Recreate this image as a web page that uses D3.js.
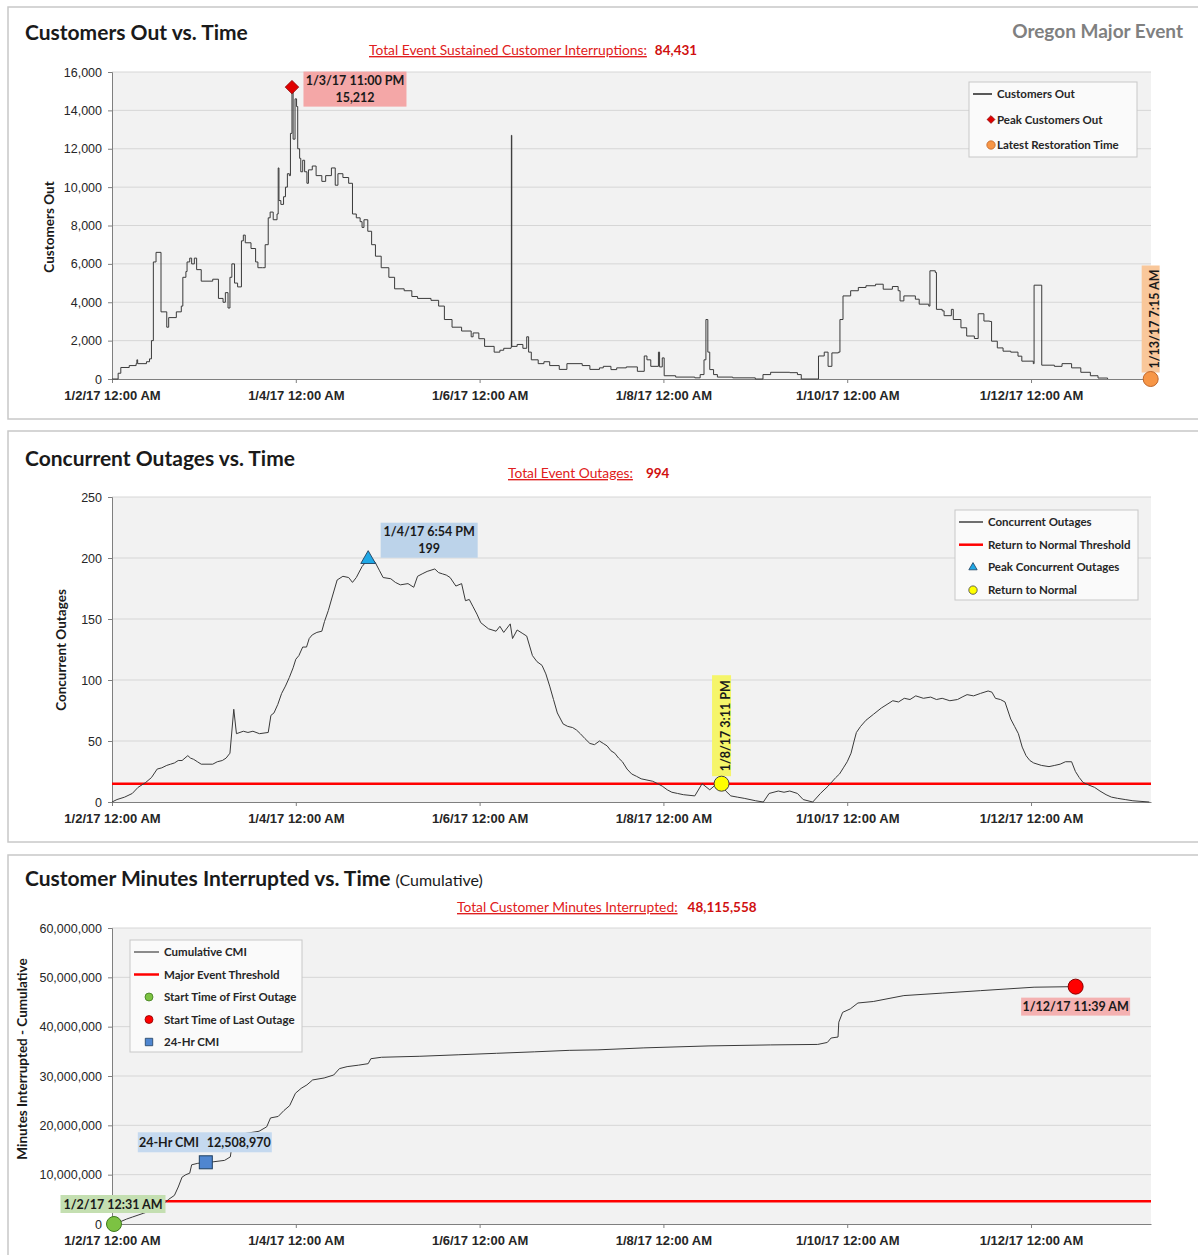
<!DOCTYPE html>
<html lang="en">
<head>
<meta charset="UTF-8">
<title>Oregon Major Event</title>
<script src="https://d3js.org/d3.v7.min.js"></script>
<style>
    body { margin: 0; background: #fff; }
    svg { font-family: Lato, "Open Sans", sans-serif; }
    svg text { fill: #1a1a1a; }
    .panel { fill: #fff; stroke: #c8c8c8; stroke-width: 1.5px; }
    .plot-bg { fill: #f2f2f2; }
    .grid line { stroke: #d6d6d6; stroke-width: 1px; }
    .axis path, .axis line { stroke: #7f7f7f; }
    .axis text { font-size: 12.5px; fill: #262626; }
    .x-axis text { font-size: 13px; font-weight: 700; }
    .series { fill: none; stroke: #3a3a3a; stroke-width: 1px; }
    .threshold { stroke: #ff0000; stroke-width: 2.5px; }
    .legend-box { fill: #fafafa; stroke: #c8c8c8; }
    .legend text { font-size: 11.5px; font-weight: 700; fill: #262626; }
    .note text { font-size: 12.5px; font-weight: 700; }
</style>
</head>
<body>
<svg id="chart" width="1198" height="1255"></svg>
<script>
// hours after 1/2/17 12:00 AM
const customersOut = [
    [0, 0], [1.3, 0], [1.6, 300], [2.3, 600], [4.5, 700], [6.3, 800], [6.5, 1000], [6.7, 800],
    [9, 900], [9.8, 1050], [10.3, 2000], [10.8, 6100], [11.5, 6600], [12.8, 3500], [14.3, 2700],
    [14.8, 3200], [16.8, 3500], [18.1, 3800], [18.5, 5300], [19.3, 5600], [19.6, 6100], [20.3, 6300],
    [20.8, 6000], [21.5, 6300], [22.1, 5700], [23.3, 5100], [26.3, 5200], [27.8, 4200], [29.0, 4000],
    [29.6, 4500], [30.3, 3700], [30.8, 5300], [31.3, 6000], [32.0, 5000], [32.8, 4800], [33.8, 7200],
    [34.3, 7500], [34.8, 7100], [36.3, 6800], [37.5, 6100], [38.1, 5800], [39.3, 5800], [40.0, 7000],
    [40.8, 8400], [41.3, 8700], [42.1, 8300], [43.1, 8600], [43.4, 11000], [43.6, 9300], [44.1, 9100],
    [44.8, 9500], [45.3, 10000], [45.8, 10700], [46.3, 10600], [46.6, 12800], [47.0, 15212],
    [47.3, 12500], [47.8, 14600], [48.2, 14200], [48.5, 12000], [49.0, 11500], [49.3, 10800],
    [49.8, 11400], [50.3, 10800], [50.9, 10200], [51.3, 10900], [52.3, 11100], [53.3, 10600],
    [54.8, 10300], [55.8, 10600], [57.3, 11000], [58.3, 10100], [59.0, 10700], [60.3, 10500],
    [61.8, 10200], [62.8, 8600], [63.8, 8400], [64.8, 8200], [65.3, 7900], [65.8, 8300], [66.8, 7700],
    [67.8, 7000], [68.8, 6400], [70.3, 5800], [72.3, 5300], [73.8, 4700], [76.3, 4600], [78.3, 4300],
    [79.8, 4200], [83.3, 4100], [85.3, 3800], [86.8, 3100], [88.8, 2700], [91.3, 2500], [93.8, 2200],
    [94.3, 2400], [95.8, 2100], [97.3, 1700], [99.8, 1400], [101.3, 1500], [102.3, 1600], [104.2, 1650],
    [104.3, 12700], [104.4, 1700], [105.8, 1800], [107.3, 1600], [108.3, 2200], [108.8, 1400],
    [109.5, 1000], [111.3, 800], [112.8, 900], [114.3, 700], [116.8, 500], [118.8, 800], [122.8, 700],
    [124.8, 500], [127.3, 580], [128.3, 660], [130.3, 490], [131.8, 580], [134.3, 630], [137.2, 400],
    [139.0, 1200], [139.7, 1000], [140.7, 660], [142.7, 1400], [143.0, 630], [143.7, 1100],
    [144.2, 170], [147.2, 100], [152.2, 60], [153.6, 230], [154.6, 1000], [155.1, 3100], [155.6, 1400],
    [156.1, 490], [157.1, 230], [158.1, 100], [162.1, 60], [168.0, 0], [170.0, 230], [172.0, 350],
    [177.0, 330], [179.0, 230], [180.0, 0], [184.5, 1200], [186.0, 1400], [187.0, 660], [188.0, 1360],
    [189.7, 1400], [190.1, 3100], [190.9, 4330], [192.9, 4600], [194.9, 4770], [196.9, 4860],
    [199.4, 4940], [201.4, 4680], [203.8, 4820], [205.3, 4600], [205.8, 4070], [206.8, 4330],
    [209.8, 4160], [210.8, 3900], [213.3, 3800], [213.6, 5640], [215.0, 5550], [215.3, 3630],
    [216.8, 3550], [217.3, 3300], [219.2, 3630], [219.7, 3100], [221.7, 2670], [223.2, 2240],
    [225.2, 2110], [226.2, 3400], [227.7, 3020], [229.2, 3000], [229.7, 1970], [231.2, 1620],
    [232.7, 1450], [234.7, 1400], [236.6, 1190], [237.6, 930], [240.6, 800], [240.8, 4890],
    [242.6, 4890], [242.8, 720], [246.1, 660], [248.1, 800], [250.6, 580], [253.0, 350],
    [255.5, 170], [257.5, 50], [260.0, 0]
];

const concurrentOutages = [
    [0, 0], [1.3, 2], [3.3, 4], [5.3, 7], [6.8, 12], [8.8, 16], [10.3, 20], [11.8, 27], [13.0, 28],
    [14.3, 30], [15.3, 31], [16.3, 32], [17.3, 34], [18.3, 34], [19.8, 38], [20.5, 36], [21.3, 35],
    [22.3, 33], [23.3, 31], [26.3, 31], [27.5, 33], [28.8, 34], [29.8, 36], [30.8, 40],
    [31.8, 76], [32.5, 56], [34.3, 58], [35.5, 57], [36.8, 58], [38.5, 56], [40.8, 57], [41.5, 71],
    [42.3, 73], [43.3, 80], [44.3, 89], [45.3, 95], [46.3, 102], [47.3, 110], [48.0, 117], [48.8, 120],
    [49.8, 127], [50.8, 127], [51.5, 134], [52.3, 137], [53.5, 139], [54.8, 140], [55.5, 148],
    [56.5, 157], [57.5, 168], [58.8, 182], [60.3, 185], [61.8, 184], [62.8, 180], [63.8, 184],
    [65.3, 193], [66.9, 199], [68.0, 199], [68.8, 196], [69.8, 190], [70.8, 184], [72.8, 183],
    [74.0, 180], [75.3, 178], [77.3, 179], [78.8, 176], [79.8, 185], [81.0, 187], [82.3, 189],
    [84.3, 191], [85.3, 188], [86.3, 187], [87.3, 186], [88.3, 184], [89.8, 177], [91.3, 179],
    [92.3, 165], [93.3, 166], [94.3, 160], [95.3, 154], [96.3, 147], [98.3, 142], [100.3, 140],
    [101.3, 144], [102.3, 139], [104.0, 146], [104.6, 134], [105.8, 141], [107.3, 138], [108.3, 136],
    [109.8, 120], [111.0, 115], [112.3, 112], [113.3, 105], [114.3, 95], [115.3, 84], [116.3, 73],
    [117.8, 64], [119.0, 62], [120.3, 61], [121.3, 59], [122.3, 56], [123.5, 52], [124.8, 48],
    [126.0, 47], [127.3, 50], [128.3, 48], [129.3, 46], [130.3, 42], [131.3, 40], [132.3, 36],
    [133.3, 33], [134.5, 27], [135.7, 23], [137.0, 21], [138.2, 19], [139.7, 18], [141.2, 17],
    [142.5, 15], [143.7, 13], [145.0, 10], [146.2, 8], [147.7, 7], [149.2, 6], [152.2, 5],
    [154.1, 15], [156.1, 10], [157.6, 14], [159.1, 15], [160.3, 9], [161.6, 5], [163.3, 4], [165.1, 3],
    [168.1, 1], [170.1, 0], [171.6, 7], [174.0, 9], [175.5, 8], [177.0, 9], [179.0, 7], [180.5, 2],
    [183.0, 0], [185.0, 7], [187.0, 13], [189.0, 20], [190.0, 23], [191.0, 28], [192.0, 33],
    [193.0, 40], [193.8, 50], [194.4, 57], [195.5, 62], [196.9, 67], [198.9, 72], [200.9, 77],
    [202.4, 80], [203.9, 83], [205.4, 82], [206.9, 85], [208.4, 84], [209.9, 87], [211.9, 85],
    [213.8, 86], [215.3, 84], [216.8, 85], [218.8, 83], [220.8, 84], [222.0, 86], [223.3, 88],
    [225.0, 87], [226.8, 89], [228.8, 91], [229.8, 90], [230.7, 85], [232.0, 84], [233.2, 82],
    [234.7, 68], [235.7, 62], [236.7, 56], [237.7, 45], [238.7, 38], [239.7, 34], [240.7, 32],
    [242.7, 30], [244.7, 29], [246.2, 30], [247.6, 31], [249.0, 33], [250.6, 33], [251.6, 25],
    [252.6, 20], [253.6, 16], [255.0, 14], [256.6, 12], [258.0, 9], [259.6, 6], [261.0, 4],
    [262.6, 3], [264.6, 2], [266.6, 1], [270.9, 0]
];

const cumulativeCMI = [
    [0.52, 0], [2.0, 0.4e6], [3.8, 1.0e6], [5.3, 1.4e6], [6.8, 1.8e6], [8.3, 2.2e6], [9.8, 2.6e6],
    [11.8, 3.2e6], [13.8, 4.3e6], [14.8, 5.0e6], [16.3, 5.8e6], [17.3, 7.5e6], [18.3, 9.5e6],
    [19.3, 10.0e6], [20.3, 10.3e6], [20.8, 12.0e6], [22.4, 12.3e6], [24.5, 12.509e6], [26.4, 12.6e6],
    [29.4, 12.9e6], [30.9, 13.6e6], [31.6, 17.4e6], [34.4, 18.3e6], [38.4, 18.8e6], [40.4, 19.7e6],
    [41.4, 21.5e6], [43.4, 21.8e6], [44.9, 23.0e6], [46.4, 24.0e6], [47.9, 26.5e6], [49.4, 27.5e6],
    [50.9, 28.2e6], [52.4, 29.2e6], [55.4, 29.6e6], [57.9, 30.2e6], [59.4, 31.5e6], [61.4, 31.9e6],
    [64.4, 32.2e6], [66.9, 32.5e6], [67.6, 33.5e6], [70.4, 33.8e6], [80.4, 34.0e6], [90.4, 34.3e6],
    [100.4, 34.6e6], [110.4, 34.9e6], [119.4, 35.2e6], [126.9, 35.3e6], [138.9, 35.7e6],
    [155.9, 36.1e6], [171.9, 36.3e6], [184.3, 36.4e6], [186.8, 36.8e6], [187.8, 37.7e6],
    [189.6, 37.9e6], [189.8, 40.9e6], [190.8, 42.9e6], [192.8, 43.6e6], [194.8, 44.8e6],
    [198.8, 45.1e6], [206.8, 46.3e6], [216.8, 46.8e6], [226.8, 47.3e6], [240.8, 48.0e6],
    [251.65, 48.115558e6]
];

const tickDays = [2, 4, 6, 8, 10, 12];
const returnToNormalThreshold = 15;
const majorEventThreshold = 4.6e6;

const start = new Date(2017, 0, 2);
const toDate = h => new Date(start.getTime() + h * 3600e3);
const fmtTick = d3.timeFormat('%-m/%-d/%y %-I:%M %p');

const svg = d3.select('#chart');

const x = d3.scaleTime()
    .domain([start, new Date(2017, 0, 13, 7, 20)])
    .range([112, 1151]);

function drawPanel(p) {
    svg.append('rect').attr('class', 'panel')
        .attr('x', 8).attr('y', p.boxTop).attr('width', 1200).attr('height', p.boxHeight);

    const y = d3.scaleLinear().domain([0, p.yMax]).range([p.bottom, p.top]);
    const g = svg.append('g');

    g.append('rect').attr('class', 'plot-bg')
        .attr('x', 112).attr('y', p.top).attr('width', 1151 - 112).attr('height', p.bottom - p.top);

    g.append('g').attr('class', 'grid')
        .selectAll('line').data(y.ticks(p.yTicks).slice(1))
        .enter().append('line')
        .attr('x1', 112).attr('x2', 1151)
        .attr('y1', d => y(d)).attr('y2', d => y(d));

    g.append('g').attr('class', 'axis')
        .attr('transform', 'translate(112,0)')
        .call(d3.axisLeft(y).ticks(p.yTicks).tickFormat(d3.format(',')).tickSize(4).tickPadding(6));

    g.append('g').attr('class', 'axis x-axis')
        .attr('transform', `translate(0,${p.bottom})`)
        .call(d3.axisBottom(x).tickValues(tickDays.map(d => new Date(2017, 0, d)))
            .tickFormat(fmtTick).tickSize(4).tickPadding(8).tickSizeOuter(0));

    // y axis title
    svg.append('text')
        .attr('transform', `translate(${p.yTitleX},${p.yTitleY}) rotate(-90)`)
        .attr('text-anchor', 'middle')
        .style('font-size', '13.5px').style('font-weight', 700)
        .text(p.yTitle);

    // chart title
    const t = svg.append('text').attr('x', 25).attr('y', p.titleY)
        .style('font-size', '21px').style('font-weight', 700);
    t.append('tspan').text(p.title);
    if (p.titleExtra) {
        t.append('tspan').attr('dx', 5).style('font-size', '16px').style('font-weight', 400).text(p.titleExtra);
    }

    // red total line
    const s = svg.append('text').attr('x', p.subX).attr('y', p.subY);
    s.append('tspan').style('font-size', '13.8px').style('fill', '#e02020')
        .style('text-decoration', 'underline').text(p.subLabel);
    s.append('tspan').attr('dx', p.subGap).style('font-size', '13.5px')
        .style('fill', '#d01010').style('font-weight', 700).text(p.subValue);

    return { g, y };
}

function labelBox(g, cx, cy, w, h, fill, lines, rotate) {
    const b = g.append('g').attr('class', 'note');
    b.append('rect').attr('x', cx - w / 2).attr('y', cy - h / 2)
        .attr('width', w).attr('height', h).attr('fill', fill);
    const tx = b.append('text').attr('text-anchor', 'middle')
        .attr('transform', rotate ? `translate(${cx + 4},${cy}) rotate(-90)` : `translate(${cx},${cy})`);
    lines.forEach((l, i) => {
        tx.append('tspan').attr('x', 0)
            .attr('y', (i - (lines.length - 1) / 2) * 17 + 4.5)
            .text(l);
    });
    return tx;
}

function legend(items, bx, by, bw, bh, rowH, symX, textX) {
    const lg = svg.append('g').attr('class', 'legend');
    lg.append('rect').attr('class', 'legend-box')
        .attr('x', bx).attr('y', by).attr('width', bw).attr('height', bh);
    items.forEach((it, i) => {
        const cy = by + 12 + i * rowH;
        if (it.type === 'line') {
            lg.append('line').attr('x1', bx + 4).attr('x2', textX - 5)
                .attr('y1', cy).attr('y2', cy)
                .attr('stroke', it.color).attr('stroke-width', it.width);
        } else {
            lg.append('path')
                .attr('transform', `translate(${symX},${cy}) rotate(${it.rot || 0})`)
                .attr('d', d3.symbol().type(it.type).size(it.size)())
                .attr('fill', it.color).attr('stroke', it.stroke).attr('stroke-width', 0.8);
        }
        lg.append('text').attr('x', textX).attr('y', cy + 4).text(it.label);
    });
}

// ---------- Panel 1: customers out ----------
const p1 = drawPanel({
    boxTop: 7, boxHeight: 412, top: 72, bottom: 379, yMax: 16000, yTicks: 8,
    title: 'Customers Out vs. Time', titleY: 40,
    yTitle: 'Customers Out', yTitleX: 54, yTitleY: 227,
    subX: 369, subY: 55, subGap: 8,
    subLabel: 'Total Event Sustained Customer Interruptions:', subValue: '84,431'
});

svg.append('text').attr('x', 1183).attr('y', 38).attr('text-anchor', 'end')
    .style('font-size', '19px').style('font-weight', 700).style('fill', '#808080')
    .text('Oregon Major Event');

p1.g.append('path').datum(customersOut).attr('class', 'series')
    .attr('d', d3.line().curve(d3.curveStepAfter)
        .x(d => x(toDate(d[0]))).y(d => p1.y(d[1])));

const peakCO = customersOut.reduce((a, b) => (b[1] > a[1] ? b : a));
const pkX = x(toDate(peakCO[0])), pkY = p1.y(peakCO[1]);
labelBox(p1.g, pkX + 63, pkY + 2, 103, 35, '#f4a7a7', ['1/3/17 11:00 PM', d3.format(',')(peakCO[1])]);
p1.g.append('path').attr('transform', `translate(${pkX},${pkY}) rotate(45)`)
    .attr('d', d3.symbol().type(d3.symbolSquare).size(90)())
    .attr('fill', '#e00000').attr('stroke', '#900000').attr('stroke-width', 0.8);

const restore = toDate(271.25);
labelBox(p1.g, x(restore), p1.y(0) - 60, 18, 107, '#f9c79a', ['1/13/17 7:15 AM'], true);
p1.g.append('circle').attr('cx', x(restore)).attr('cy', p1.y(0)).attr('r', 7.5)
    .attr('fill', '#f79646').attr('stroke', '#c0662a');

legend([
    { type: 'line', color: '#595959', width: 2, label: 'Customers Out' },
    { type: d3.symbolSquare, size: 30, rot: 45, color: '#e00000', stroke: '#900000', label: 'Peak Customers Out' },
    { type: d3.symbolCircle, size: 55, color: '#f79646', stroke: '#c0662a', label: 'Latest Restoration Time' }
], 969, 82, 168, 75, 25.5, 991, 997);

// ---------- Panel 2: concurrent outages ----------
const p2 = drawPanel({
    boxTop: 431, boxHeight: 411, top: 497, bottom: 802, yMax: 250, yTicks: 5,
    title: 'Concurrent Outages vs. Time', titleY: 466,
    yTitle: 'Concurrent Outages', yTitleX: 66, yTitleY: 650,
    subX: 508, subY: 478, subGap: 13,
    subLabel: 'Total Event Outages:', subValue: '994'
});

p2.g.append('line').attr('class', 'threshold')
    .attr('x1', 112).attr('x2', 1151)
    .attr('y1', p2.y(returnToNormalThreshold)).attr('y2', p2.y(returnToNormalThreshold));

p2.g.append('path').datum(concurrentOutages).attr('class', 'series')
    .attr('d', d3.line().x(d => x(toDate(d[0]))).y(d => p2.y(d[1])));

const peakOut = concurrentOutages.reduce((a, b) => (b[1] > a[1] ? b : a));
const poX = x(toDate(peakOut[0])), poY = p2.y(peakOut[1]);
labelBox(p2.g, poX + 61, poY - 19, 97, 35, '#bcd3ea', ['1/4/17 6:54 PM', String(peakOut[1])]);
p2.g.append('path').attr('transform', `translate(${poX},${poY})`)
    .attr('d', d3.symbol().type(d3.symbolTriangle).size(95)())
    .attr('fill', '#1fa8e6').attr('stroke', '#1f3f60').attr('stroke-width', 0.9);

const rtn = toDate(159.18);
labelBox(p2.g, x(rtn), p2.y(returnToNormalThreshold) - 58, 19, 101, '#f5f56a', ['1/8/17 3:11 PM'], true);
p2.g.append('circle').attr('cx', x(rtn)).attr('cy', p2.y(returnToNormalThreshold)).attr('r', 7.5)
    .attr('fill', '#ffff00').attr('stroke', '#404040');

legend([
    { type: 'line', color: '#404040', width: 1.5, label: 'Concurrent Outages' },
    { type: 'line', color: '#ff0000', width: 2.5, label: 'Return to Normal Threshold' },
    { type: d3.symbolTriangle, size: 30, color: '#1fa8e6', stroke: '#1f3f60', label: 'Peak Concurrent Outages' },
    { type: d3.symbolCircle, size: 55, color: '#ffff00', stroke: '#404040', label: 'Return to Normal' }
], 955, 510, 183, 90, 22.7, 973, 988);

// ---------- Panel 3: cumulative CMI ----------
const p3 = drawPanel({
    boxTop: 855, boxHeight: 420, top: 928, bottom: 1224, yMax: 60000000, yTicks: 6,
    title: 'Customer Minutes Interrupted  vs. Time', titleY: 886, titleExtra: '(Cumulative)',
    yTitle: 'Minutes Interrupted - Cumulative', yTitleX: 27, yTitleY: 1059,
    subX: 457, subY: 912, subGap: 10,
    subLabel: 'Total Customer Minutes Interrupted:', subValue: '48,115,558'
});

p3.g.append('line').attr('class', 'threshold')
    .attr('x1', 112).attr('x2', 1151)
    .attr('y1', p3.y(majorEventThreshold)).attr('y2', p3.y(majorEventThreshold));

p3.g.append('path').datum(cumulativeCMI).attr('class', 'series')
    .attr('d', d3.line().x(d => x(toDate(d[0]))).y(d => p3.y(d[1])));

const first = cumulativeCMI[0];
const last = cumulativeCMI[cumulativeCMI.length - 1];
const cmi24 = cumulativeCMI.find(d => d[0] === 24.5);

labelBox(p3.g, x(toDate(first[0])) - 1, p3.y(first[1]) - 20, 105, 18, '#c4dfb1', ['1/2/17 12:31 AM']);
p3.g.append('circle').attr('cx', x(toDate(first[0]))).attr('cy', p3.y(first[1])).attr('r', 7.5)
    .attr('fill', '#7cc242').attr('stroke', '#3f7a1d');

const t24 = labelBox(p3.g, x(toDate(cmi24[0])) - 1, p3.y(cmi24[1]) - 20, 134, 20, '#c5d9ef', ['24-Hr CMI']);
t24.select('tspan').append('tspan').attr('dx', 8).text(d3.format(',')(12508970));
p3.g.append('rect').attr('x', x(toDate(cmi24[0])) - 6.5).attr('y', p3.y(cmi24[1]) - 6.5)
    .attr('width', 13).attr('height', 13)
    .attr('fill', '#4f86d0').attr('stroke', '#1f3f60');

labelBox(p3.g, x(toDate(last[0])), p3.y(last[1]) + 20, 109, 18, '#f4b1b1', ['1/12/17 11:39 AM']);
p3.g.append('circle').attr('cx', x(toDate(last[0]))).attr('cy', p3.y(last[1])).attr('r', 7.5)
    .attr('fill', '#ff0000').attr('stroke', '#8a0000');

legend([
    { type: 'line', color: '#404040', width: 1.2, label: 'Cumulative CMI' },
    { type: 'line', color: '#ff0000', width: 2.5, label: 'Major Event Threshold' },
    { type: d3.symbolCircle, size: 50, color: '#7cc242', stroke: '#3f7a1d', label: 'Start Time of First Outage' },
    { type: d3.symbolCircle, size: 50, color: '#ff0000', stroke: '#8a0000', label: 'Start Time of Last Outage' },
    { type: d3.symbolSquare, size: 55, color: '#4f86d0', stroke: '#1f3f60', label: '24-Hr CMI' }
], 130, 940, 172, 112, 22.5, 149, 164);
</script>
</body>
</html>
